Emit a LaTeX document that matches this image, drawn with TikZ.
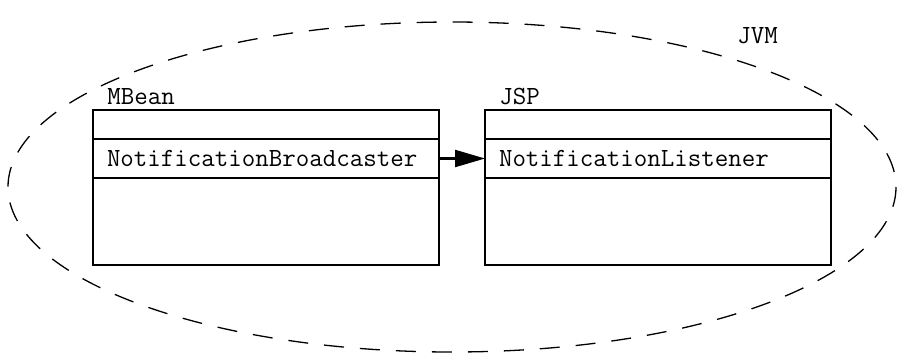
\documentclass[tikz,border=0pt]{standalone}
\usepackage{fontspec}
\usetikzlibrary{arrows.meta,positioning}

\begin{document}
\begin{tikzpicture}[x=0.5pt,y=-0.5pt,
    classrow/.style={draw, line width=1.1pt, minimum width=173pt, inner sep=0pt, outer sep=0pt,
      font=\ttfamily\fontsize{13.1}{15}\selectfont},
    oprow/.style={classrow, minimum height=19.5pt, text width=159pt, align=left, inner xsep=7pt},
    tag/.style={anchor=base west, inner sep=0pt, font=\ttfamily\fontsize{13.1}{15}\selectfont}]
  \useasboundingbox (0,0) rectangle (904,355);

  % JVM boundary
  \draw[line width=0.65pt, dash pattern=on 10pt off 8pt] (452,187) ellipse [x radius=444, y radius=165];
  \node[tag] (jvmLabel) at (737,43) {JVM};

  % MBean class
  \node[classrow, minimum height=14.5pt] (mbeanTop) at (266,124.5) {};
  \node[oprow, below=0pt of mbeanTop] (mbeanOps) {NotificationBroadcaster};
  \node[classrow, minimum height=43.5pt, below=0pt of mbeanOps] (mbeanBody) {};
  \node[tag] (mbeanLabel) at (107,104) {MBean};

  % JSP class
  \node[classrow, minimum height=14.5pt] (jspTop) at (658,124.5) {};
  \node[oprow, below=0pt of jspTop] (jspOps) {NotificationListener};
  \node[classrow, minimum height=43.5pt, below=0pt of jspOps] (jspBody) {};
  \node[tag] (jspLabel) at (499,104) {JSP};

  % notification
  \draw[-{Triangle[length=15pt,width=8.5pt]}, line width=1.1pt] (mbeanOps.east) -- (jspOps.west);
\end{tikzpicture}
\end{document}
